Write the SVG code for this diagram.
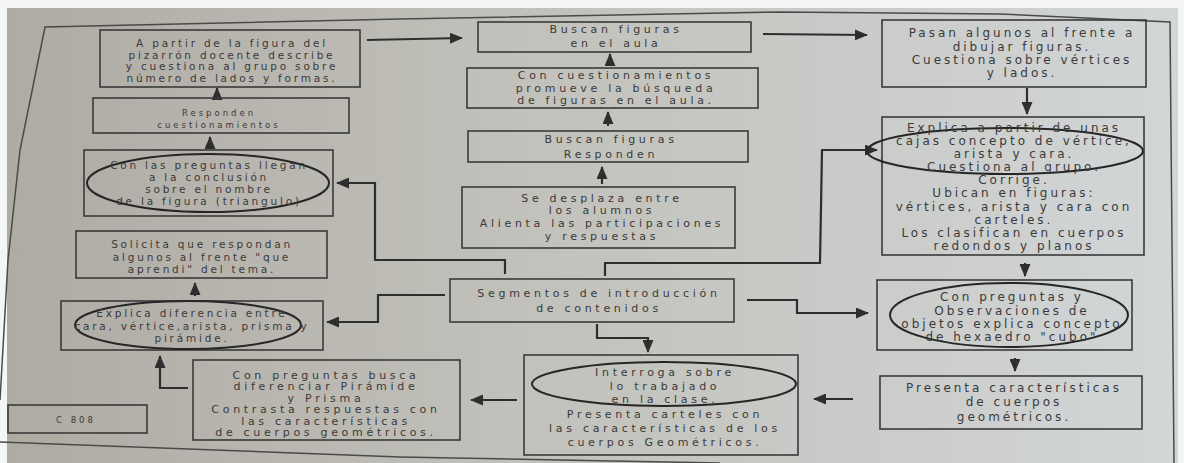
<svg xmlns="http://www.w3.org/2000/svg" width="1184" height="463" viewBox="0 0 1184 463">
<defs>
<linearGradient id="paper" x1="0" y1="0" x2="1" y2="0">
<stop offset="0" stop-color="#aeaba3"/>
<stop offset="0.45" stop-color="#c2c1bb"/>
<stop offset="1" stop-color="#d2d6d7"/>
</linearGradient>
<marker id="ah" markerUnits="userSpaceOnUse" markerWidth="13" markerHeight="11" refX="12" refY="5.5" orient="auto">
<path d="M0,0 L13,5.5 L0,11 Z" fill="#2e2e2e"/>
</marker>
<style>
.box{fill:none;stroke:#3a3a3a;stroke-width:1.6}
.ell{fill:none;stroke:#262626;stroke-width:2}
.con{fill:none;stroke:#2e2e2e;stroke-width:2.2;marker-end:url(#ah)}
.frame{fill:none;stroke:#4a4a4a;stroke-width:1.5}
text{font-family:"DejaVu Sans","Liberation Sans",sans-serif;fill:#3a3a3a;text-anchor:middle}
.l{font-size:10.5px;letter-spacing:2.8px}
.s{font-size:8.5px;letter-spacing:3px}
.m{font-size:11px;letter-spacing:3.7px}
.r{font-size:12px;letter-spacing:3px}
</style>
</defs>
<rect x="0" y="0" width="1184" height="463" fill="#f4f5f5"/>
<rect x="7" y="8" width="1171" height="455" fill="url(#paper)"/>
<path class="frame" d="M0,400 L8,260 L20,150 L45,27 L400,19 L780,12 L1000,14 L1170,22 L1174,463"/>
<path class="frame" d="M0,442 L400,457 L720,463"/>

<g id="connectors">
<path class="con" d="M367,40 L462,38"/>
<path class="con" d="M763,34 L867,35"/>
<path class="con" d="M217,99 L217,88"/>
<path class="con" d="M210,149 L210,137"/>
<path class="con" d="M195,296 L195,283"/>
<path class="con" d="M610,65 L610,54"/>
<path class="con" d="M608,126 L608,112"/>
<path class="con" d="M602,184 L602,167"/>
<path class="con" d="M1027,88 L1027,114"/>
<path class="con" d="M1025,263 L1025,276"/>
<path class="con" d="M1015,358 L1015,371"/>
<path class="con" d="M605,276 L605,263 L820,263 L822,150 L877,150"/>
<path class="con" d="M747,300 L797,300 L797,313 L868,313"/>
<path class="con" d="M597,324 L597,338 L648,338 L648,352"/>
<path class="con" d="M445,295 L378,295 L378,322 L327,322"/>
<path class="con" d="M505,274 L505,260 L375,260 L375,183 L337,183"/>
<path class="con" d="M853,399 L814,399"/>
<path class="con" d="M517,400 L471,400"/>
<path class="con" d="M188,388 L160,388 L160,356"/>
</g>

<g id="n1">
<rect class="box" x="100" y="30" width="260" height="57"/>
<text class="l" x="232" y="47">A partir de la figura del</text>
<text class="l" x="232" y="58.5">pizarrón docente describe</text>
<text class="l" x="232" y="70">y cuestiona al grupo sobre</text>
<text class="l" x="232" y="82">número de lados y formas.</text>
</g>
<g id="n2">
<rect class="box" x="93" y="98" width="256" height="35"/>
<text class="s" x="219" y="116">Responden</text>
<text class="s" x="219" y="127.5">cuestionamientos</text>
</g>
<g id="n3">
<rect class="box" x="84" y="150" width="249" height="66"/>
<ellipse class="ell" cx="208" cy="183" rx="121" ry="29"/>
<text class="l" x="209" y="169">Con las preguntas llegan</text>
<text class="l" x="209" y="181">a la conclusión</text>
<text class="l" x="209" y="193">sobre el nombre</text>
<text class="l" x="209" y="205">de la figura (triangulo)</text>
</g>
<g id="n4">
<rect class="box" x="76" y="231" width="251" height="47"/>
<text class="l" x="202" y="248">Solicita que respondan</text>
<text class="l" x="202" y="260.5">algunos al frente "que</text>
<text class="l" x="202" y="273">aprendi" del tema.</text>
</g>
<g id="n5">
<rect class="box" x="61" y="301" width="262" height="49"/>
<ellipse class="ell" cx="188" cy="325" rx="113" ry="24"/>
<text class="l" x="192" y="317">Explica diferencia entre</text>
<text class="l" x="192" y="329.5">cara, vértice,arista, prisma y</text>
<text class="l" x="192" y="342">pirámide.</text>
</g>
<g id="n6">
<rect class="box" x="8" y="405" width="139" height="28"/>
<text class="s" x="76" y="422.5">C 808</text>
</g>
<g id="n7">
<rect class="box" x="193" y="360" width="267" height="80"/>
<text class="m" x="326" y="378.5">Con preguntas busca</text>
<text class="m" x="326" y="390">diferenciar Pirámide</text>
<text class="m" x="326" y="401.5">y Prisma</text>
<text class="m" x="326" y="413">Contrasta respuestas con</text>
<text class="m" x="326" y="424.5">las características</text>
<text class="m" x="326" y="436">de cuerpos geométricos.</text>
</g>
<g id="n8">
<rect class="box" x="478" y="22" width="273" height="30"/>
<text class="m" x="616" y="33">Buscan figuras</text>
<text class="m" x="616" y="47">en el aula</text>
</g>
<g id="n9">
<rect class="box" x="467" y="68" width="291" height="40"/>
<text class="m" x="616" y="79">Con cuestionamientos</text>
<text class="m" x="616" y="92">promueve la búsqueda</text>
<text class="m" x="616" y="104">de figuras en el aula.</text>
</g>
<g id="n10">
<rect class="box" x="468" y="131" width="280" height="31"/>
<text class="m" x="611" y="143">Buscan figuras</text>
<text class="m" x="611" y="157.5">Responden</text>
</g>
<g id="n11">
<rect class="box" x="462" y="187" width="273" height="61"/>
<text class="m" x="602" y="202">Se desplaza entre</text>
<text class="m" x="602" y="214">los alumnos</text>
<text class="m" x="602" y="227">Alienta las participaciones</text>
<text class="m" x="602" y="240">y respuestas</text>
</g>
<g id="n12">
<rect class="box" x="450" y="279" width="284" height="43"/>
<text class="m" x="599" y="297">Segmentos de introducción</text>
<text class="m" x="599" y="312">de contenidos</text>
</g>
<g id="n13">
<rect class="box" x="524" y="355" width="274" height="100"/>
<ellipse class="ell" cx="664" cy="384" rx="132" ry="22"/>
<text class="m" x="665" y="376">Interroga sobre</text>
<text class="m" x="665" y="390">lo trabajado</text>
<text class="m" x="665" y="403">en la clase.</text>
<text class="m" x="665" y="418">Presenta carteles con</text>
<text class="m" x="665" y="432">las características de los</text>
<text class="m" x="665" y="446">cuerpos Geométricos.</text>
</g>
<g id="n14">
<rect class="box" x="882" y="20" width="264" height="67"/>
<text class="r" x="1022" y="37">Pasan algunos al frente a</text>
<text class="r" x="1022" y="51">dibujar figuras.</text>
<text class="r" x="1022" y="64">Cuestiona sobre vértices</text>
<text class="r" x="1022" y="77">y lados.</text>
</g>
<g id="n15">
<rect class="box" x="882" y="117" width="262" height="138"/>
<ellipse class="ell" cx="1005" cy="151" rx="138" ry="23"/>
<text class="r" x="1014" y="132">Explica a partir de unas</text>
<text class="r" x="1014" y="145">cajas concepto de vértice,</text>
<text class="r" x="1014" y="158">arista y cara.</text>
<text class="r" x="1014" y="171">Cuestiona al grupo.</text>
<text class="r" x="1014" y="184">Corrige.</text>
<text class="r" x="1014" y="197">Ubican en figuras:</text>
<text class="r" x="1014" y="211">vértices, arista y cara con</text>
<text class="r" x="1014" y="224">carteles.</text>
<text class="r" x="1014" y="237">Los clasifican en cuerpos</text>
<text class="r" x="1014" y="250">redondos y planos</text>
</g>
<g id="n16">
<rect class="box" x="877" y="280" width="255" height="70"/>
<ellipse class="ell" cx="1009" cy="315" rx="119" ry="32"/>
<text class="r" x="1012" y="301">Con preguntas y</text>
<text class="r" x="1012" y="315">Observaciones de</text>
<text class="r" x="1012" y="328">objetos explica concepto</text>
<text class="r" x="1012" y="341">de hexaedro "cubo"</text>
</g>
<g id="n17">
<rect class="box" x="880" y="376" width="262" height="53"/>
<text class="r" x="1014" y="392">Presenta características</text>
<text class="r" x="1014" y="406">de cuerpos</text>
<text class="r" x="1014" y="421">geométricos.</text>
</g>
</svg>
